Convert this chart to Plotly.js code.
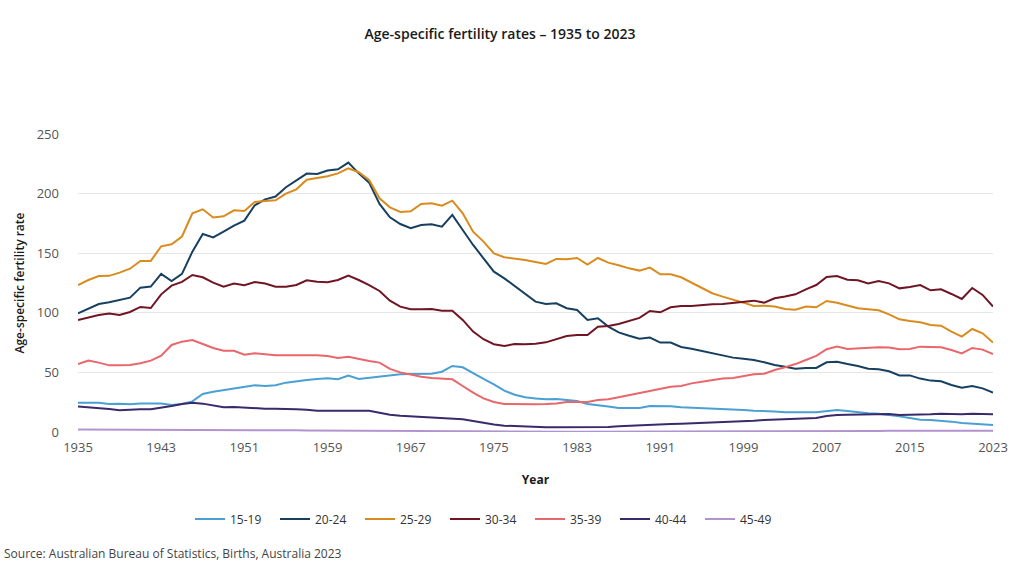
<!DOCTYPE html>
<html>
<head>
<meta charset="utf-8">
<script src="https://cdn.plot.ly/plotly-3.0.1.min.js"></script>
<style>
html,body{margin:0;padding:0;background:#ffffff;}
#chart{width:1024px;height:579px;}
</style>
</head>
<body>
<div id="chart"></div>
<script>
// Years 1935..2023
const startYear = 1935;
const endYear = 2023;
const years = [];
for (let y = startYear; y <= endYear; y++) years.push(y);

const seriesNames = ['15-19', '20-24', '25-29', '30-34', '35-39', '40-44', '45-49'];
const seriesColors = ['#4aa0d2', '#173f5f', '#d98b1d', '#6f1524', '#e9666b', '#3a2a6c', '#b393cf'];

const age15_19 = [
  24.6,24.9,24.6,23.5,23.8,23.2,24.0,24.0,24.0,22.7,
  23.5,25.7,31.9,33.8,35.2,36.4,38.0,39.2,38.6,39.2,
  41.4,42.8,43.6,44.5,45.0,44.2,47.3,44.5,45.6,46.7,
  47.3,48.4,48.7,48.7,48.9,50.6,55.4,54.3,49.2,44.5,
  40.0,34.7,31.3,29.1,28.2,27.4,27.7,26.9,26.0,23.5,
  22.7,21.3,20.1,19.9,20.1,21.8,21.8,21.5,20.7,20.4,
  20.1,19.9,19.6,18.7,18.5,17.9,17.9,17.3,16.5,16.2,
  16.5,16.5,17.3,18.5,17.6,16.5,15.7,15.4,14.5,13.1,
  11.7,10.3,10.1,9.5,8.7,7.6,7.0,6.4,5.9
];
const age20_24 = [
  99.6,103.2,107.4,108.8,110.8,112.7,121.1,122.0,132.6,126.7,
  132.6,151.3,166.1,163.3,168.1,173.1,177.3,190.2,195.2,197.5,
  205.3,210.9,216.8,216.5,219.3,220.4,226.0,217.0,209.2,191.3,
  180.1,174.5,170.9,173.7,174.3,172.3,182.1,169.5,156.9,145.7,
  134.5,128.9,122.5,115.8,109.4,107.4,108.0,103.8,102.4,94.0,
  95.4,88.4,83.6,80.8,78.3,79.2,75.0,75.0,71.3,69.9,
  68.0,66.0,63.8,62.4,61.5,60.4,58.5,56.2,54.8,53.1,
  53.7,53.7,58.5,59.0,57.0,55.4,53.1,52.6,50.9,47.5,
  47.5,44.8,43.1,42.5,39.4,37.2,38.6,36.6,33.0
];
const age25_29 = [
  123.3,127.5,130.9,131.0,133.7,137.0,143.5,143.5,155.8,157.5,
  164.0,183.5,186.8,180.0,181.0,186.0,185.4,193.0,193.8,194.4,
  200.0,203.6,211.7,213.4,214.5,217.0,221.2,217.9,211.4,196.1,
  188.5,184.6,185.2,191.3,191.9,189.9,194.1,183.5,168.1,159.7,
  149.9,146.6,145.7,144.3,142.6,141.0,145.2,144.9,146.0,140.4,
  146.0,142.1,139.9,137.3,135.4,137.9,132.3,132.3,129.8,125.3,
  120.5,116.4,113.6,111.3,108.5,105.7,106.0,105.2,103.2,102.6,
  105.2,104.6,109.9,108.5,106.0,103.8,102.9,102.1,98.7,94.5,
  93.1,92.0,89.8,89.2,84.2,80.0,86.4,82.8,75.0
];
const age30_34 = [
  94.0,95.9,98.2,99.3,98.2,100.7,104.9,104.0,115.5,122.8,
  125.9,131.7,129.8,125.3,121.9,124.5,123.1,125.9,124.5,121.9,
  121.9,123.3,127.3,126.1,125.6,127.5,131.2,127.5,123.3,118.3,
  110.2,105.2,102.9,102.9,103.2,101.8,101.8,94.0,84.2,77.8,
  73.6,72.2,73.8,73.6,74.0,75.2,77.8,80.6,81.4,81.4,
  88.4,88.9,90.6,93.1,95.7,101.5,100.4,104.6,105.7,105.7,
  106.6,107.1,107.4,108.2,109.1,110.2,108.5,112.2,113.6,115.5,
  119.7,123.3,130.1,130.9,127.8,127.3,124.7,126.7,124.7,120.5,
  121.7,123.3,118.9,119.7,115.8,111.6,120.8,115.0,105.2
];
const age35_39 = [
  57.0,59.9,58.2,55.9,55.9,56.2,57.6,59.9,64.0,73.0,
  75.8,77.2,73.8,70.5,68.2,68.2,64.9,66.0,65.2,64.3,
  64.3,64.3,64.9,64.3,63.8,62.1,63.2,61.3,59.6,58.2,
  52.9,50.0,48.1,46.4,45.3,44.8,44.2,38.6,33.0,28.2,
  25.2,23.5,23.2,23.2,23.2,23.5,24.0,25.2,25.5,25.2,
  26.9,27.4,29.1,30.8,33.0,34.7,35.8,38.0,38.6,40.8,
  42.2,43.6,44.8,45.3,47.0,48.4,48.9,52.0,54.3,57.0,
  60.4,63.8,69.4,71.6,69.6,70.2,70.5,71.0,70.8,69.4,
  69.6,71.6,71.3,71.0,68.8,66.0,70.5,69.1,65.4
];
const age40_44 = [
  21.3,20.7,19.9,19.3,18.2,18.7,19.0,19.0,20.1,21.8,
  23.5,24.6,23.8,22.4,20.7,21.0,20.4,19.9,19.6,19.6,
  19.6,19.0,18.7,17.9,17.9,17.9,18.5,17.9,17.9,16.2,
  14.5,13.7,13.1,12.6,12.0,11.5,10.9,10.6,9.2,7.6,
  6.2,5.3,4.8,4.5,4.2,3.9,3.9,3.9,3.9,3.9,
  3.9,4.2,4.8,5.3,5.6,5.9,6.2,6.7,7.0,7.3,
  7.8,8.4,8.7,9.0,9.2,9.5,10.1,10.3,10.6,10.9,
  11.2,11.7,13.4,14.3,14.5,14.8,15.1,15.1,15.1,14.3,
  14.3,14.5,14.8,15.4,15.1,14.8,15.4,15.4,14.8
];
const age45_49 = [
  2.0,2.0,1.9,1.9,1.8,1.8,1.8,1.7,1.7,1.8,
  1.8,1.9,1.8,1.7,1.6,1.6,1.5,1.5,1.5,1.4,
  1.4,1.4,1.3,1.3,1.3,1.3,1.3,1.2,1.2,1.1,
  1.0,1.0,0.9,0.9,0.8,0.8,0.8,0.7,0.6,0.5,
  0.5,0.4,0.4,0.4,0.4,0.3,0.3,0.3,0.3,0.3,
  0.3,0.3,0.3,0.3,0.3,0.3,0.3,0.3,0.3,0.3,
  0.3,0.3,0.3,0.4,0.4,0.4,0.4,0.5,0.5,0.6,
  0.6,0.6,0.7,0.8,0.8,0.9,0.9,0.9,1.0,1.0,
  1.0,1.0,1.1,1.1,1.1,1.1,1.2,1.1,1.1
];

const seriesValues = [age15_19, age20_24, age25_29, age30_34, age35_39, age40_44, age45_49];

const tickYears = [1935, 1943, 1951, 1959, 1967, 1975, 1983, 1991, 1999, 2007, 2015, 2023];
const yTicks = [0, 50, 100, 150, 200, 250];

const FONT = 'Open Sans, "Noto Sans", sans-serif';

const traces = seriesNames.map((name, i) => ({
  type: 'scatter',
  mode: 'lines',
  name: name,
  x: years,
  y: seriesValues[i],
  line: { color: seriesColors[i], width: 2 },
  hoverinfo: 'x+y+name'
}));

const layout = {
  width: 1024,
  height: 579,
  margin: { l: 78, r: 31, t: 134, b: 147, pad: 0 },
  paper_bgcolor: '#ffffff',
  plot_bgcolor: '#ffffff',
  font: { family: FONT, color: '#333333' },
  showlegend: true,
  title: {
    text: 'Age-specific fertility rates – 1935 to 2023',
    xref: 'container', x: 500 / 1024, xanchor: 'center',
    yref: 'container', y: 1 - 34 / 579, yanchor: 'middle',
    font: { family: FONT, size: 14, color: '#1a1a1a', weight: 600 }
  },
  xaxis: {
    range: [startYear, endYear],
    tickmode: 'array',
    tickvals: tickYears,
    ticktext: tickYears.map(String),
    showgrid: false,
    zeroline: false,
    showline: false,
    ticks: '',
    ticklabelstandoff: 6,
    tickfont: { family: FONT, size: 13, color: '#555555' },
    title: { text: 'Year', standoff: 20, font: { family: FONT, size: 12, color: '#1a1a1a', weight: 'bold' } },
    automargin: false,
    fixedrange: true
  },
  yaxis: {
    range: [0, 250],
    tickmode: 'array',
    tickvals: yTicks,
    showgrid: true,
    gridcolor: '#e6e6e6',
    gridwidth: 1,
    zeroline: false,
    showline: false,
    ticks: '',
    ticklabelstandoff: 18,
    tickfont: { family: FONT, size: 13, color: '#555555' },
    title: { text: 'Age-specific fertility rate', standoff: 9, font: { family: FONT, size: 12, color: '#1a1a1a', weight: 600 } },
    automargin: false,
    fixedrange: true
  },
  legend: {
    orientation: 'h',
    xref: 'container', x: 190 / 1024, xanchor: 'left',
    yref: 'container', y: 1 - 519 / 579, yanchor: 'middle',
    entrywidth: 40,
    entrywidthmode: 'pixels',
    font: { family: FONT, size: 12, color: '#333333' },
    bgcolor: 'rgba(0,0,0,0)',
    traceorder: 'normal'
  },
  annotations: [{
    text: 'Source: Australian Bureau of Statistics, Births, Australia 2023',
    xref: 'paper', yref: 'paper',
    x: (2 - 78) / 915, y: (432 - 553) / 298,
    xanchor: 'left', yanchor: 'middle',
    showarrow: false,
    font: { family: FONT, size: 12, color: '#444444' }
  }]
};

Plotly.newPlot('chart', traces, layout, { displayModeBar: false, staticPlot: false });
</script>
</body>
</html>
